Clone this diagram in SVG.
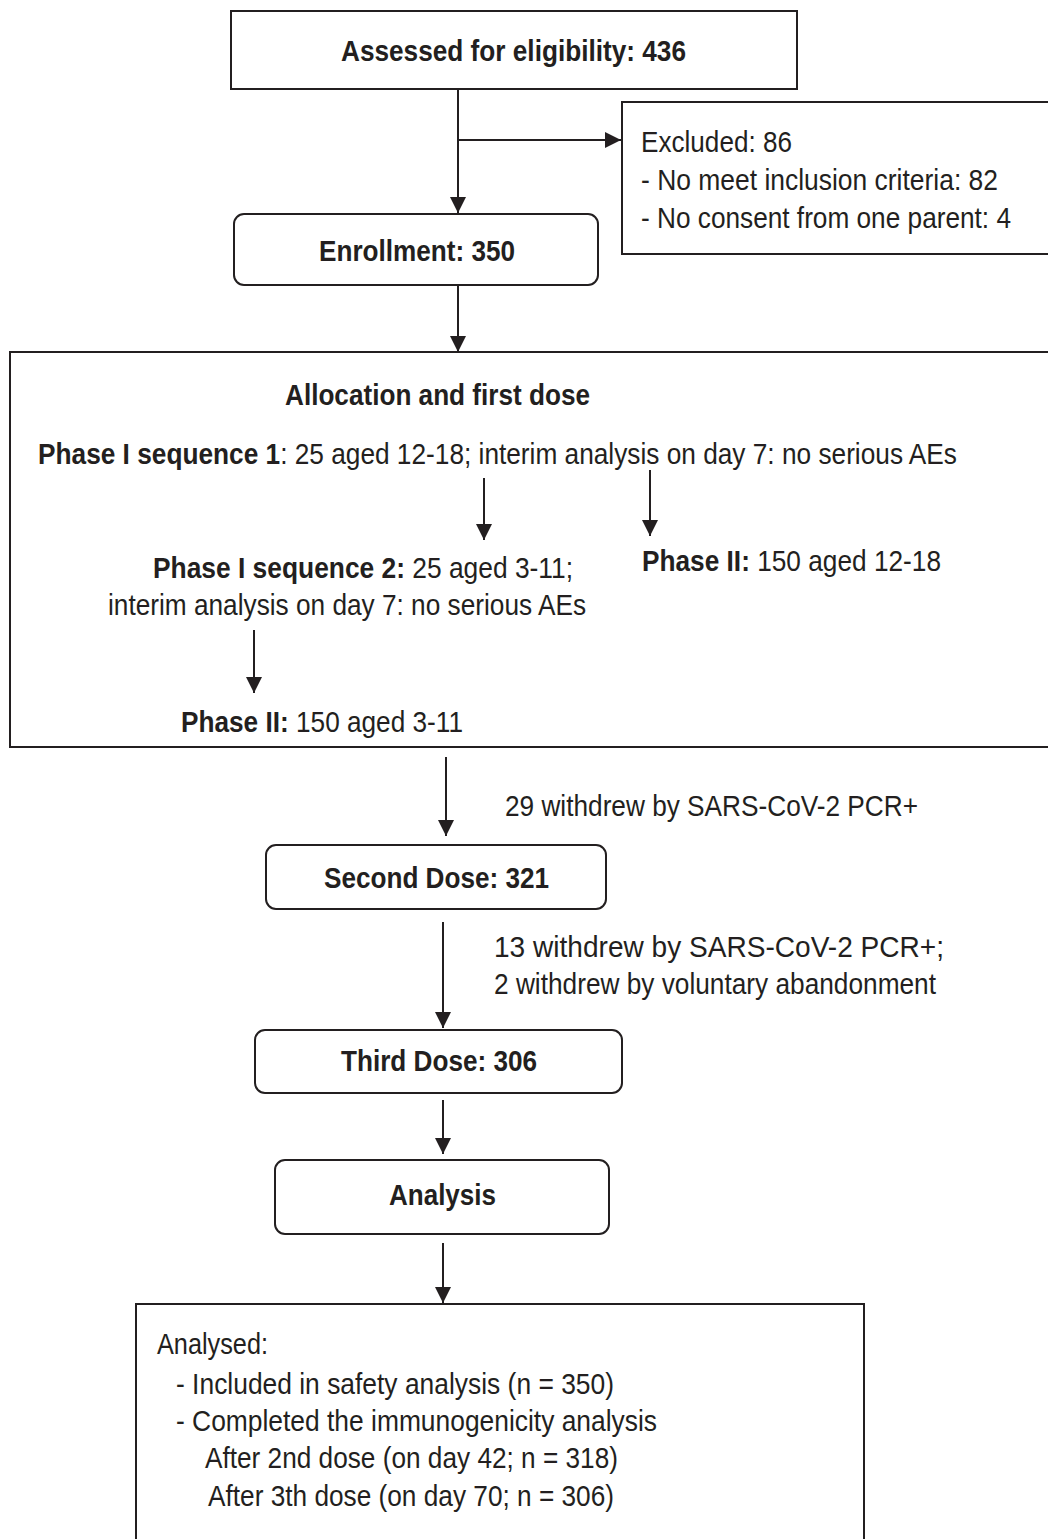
<svg xmlns="http://www.w3.org/2000/svg" width="1048" height="1539" viewBox="0 0 1048 1539">
<style>
.box{fill:#fff;stroke:#231f20;stroke-width:2}
.t{font-family:"Liberation Sans Narrow","Arial Narrow","Liberation Sans",Arial,sans-serif;font-size:30px;fill:#231f20}
.b{font-weight:bold}
.ln{stroke:#231f20;stroke-width:2;fill:none}
</style>
<defs>
<marker id="ah" markerUnits="userSpaceOnUse" markerWidth="16" markerHeight="20" viewBox="0 0 16 20" refX="16" refY="8" orient="auto">
<path d="M0,0 L16,8 L0,16 Z" fill="#231f20"/>
</marker>
</defs>
<rect width="1048" height="1539" fill="#fff"/>

<g id="assessed">
<rect class="box" x="231" y="11" width="566" height="78"/>
<text class="t b" x="341" y="61" textLength="345" lengthAdjust="spacingAndGlyphs">Assessed for eligibility: 436</text>
</g>

<g id="excluded">
<rect class="box" x="622" y="102" width="430" height="152"/>
<text class="t" x="641" y="152" textLength="151" lengthAdjust="spacingAndGlyphs">Excluded: 86</text>
<text class="t" x="641" y="190" textLength="357" lengthAdjust="spacingAndGlyphs">- No meet inclusion criteria: 82</text>
<text class="t" x="641" y="228" textLength="370" lengthAdjust="spacingAndGlyphs">- No consent from one parent: 4</text>
</g>

<g id="enrollment">
<rect class="box" x="234" y="214" width="364" height="71" rx="10"/>
<text class="t b" x="319" y="261" textLength="196" lengthAdjust="spacingAndGlyphs">Enrollment: 350</text>
</g>

<g id="allocation">
<rect class="box" x="10" y="352" width="1045" height="395"/>
<text class="t b" x="285" y="405" textLength="305" lengthAdjust="spacingAndGlyphs">Allocation and first dose</text>
<text class="t" x="38" y="464" textLength="919" lengthAdjust="spacingAndGlyphs"><tspan class="b">Phase I sequence 1</tspan>: 25 aged 12-18; interim analysis on day 7: no serious AEs</text>
<text class="t" x="153" y="578" textLength="420" lengthAdjust="spacingAndGlyphs"><tspan class="b">Phase I sequence 2:</tspan> 25 aged 3-11;</text>
<text class="t" x="108" y="615" textLength="478" lengthAdjust="spacingAndGlyphs">interim analysis on day 7: no serious AEs</text>
<text class="t" x="642" y="571" textLength="299" lengthAdjust="spacingAndGlyphs"><tspan class="b">Phase II:</tspan> 150 aged 12-18</text>
<text class="t" x="181" y="732" textLength="282" lengthAdjust="spacingAndGlyphs"><tspan class="b">Phase II:</tspan> 150 aged 3-11</text>
</g>

<g id="second">
<rect class="box" x="266" y="845" width="340" height="64" rx="10"/>
<text class="t b" x="324" y="888" textLength="225" lengthAdjust="spacingAndGlyphs">Second Dose: 321</text>
</g>

<g id="third">
<rect class="box" x="255" y="1030" width="367" height="63" rx="10"/>
<text class="t b" x="341" y="1071" textLength="196" lengthAdjust="spacingAndGlyphs">Third Dose: 306</text>
</g>

<g id="analysis">
<rect class="box" x="275" y="1160" width="334" height="74" rx="10"/>
<text class="t b" x="389" y="1205" textLength="107" lengthAdjust="spacingAndGlyphs">Analysis</text>
</g>

<g id="analysed">
<rect class="box" x="136" y="1304" width="728" height="245"/>
<text class="t" x="157" y="1354" textLength="111" lengthAdjust="spacingAndGlyphs">Analysed:</text>
<text class="t" x="176" y="1394" textLength="438" lengthAdjust="spacingAndGlyphs">- Included in safety analysis (n = 350)</text>
<text class="t" x="176" y="1431" textLength="481" lengthAdjust="spacingAndGlyphs">- Completed the immunogenicity analysis</text>
<text class="t" x="205" y="1468" textLength="413" lengthAdjust="spacingAndGlyphs">After 2nd dose (on day 42; n = 318)</text>
<text class="t" x="208" y="1506" textLength="406" lengthAdjust="spacingAndGlyphs">After 3th dose (on day 70; n = 306)</text>
</g>

<g id="labels">
<text class="t" x="505" y="816" textLength="413" lengthAdjust="spacingAndGlyphs">29 withdrew by SARS-CoV-2 PCR+</text>
<text class="t" x="494" y="957" textLength="450" lengthAdjust="spacingAndGlyphs">13 withdrew by SARS-CoV-2 PCR+;</text>
<text class="t" x="494" y="994" textLength="442" lengthAdjust="spacingAndGlyphs">2 withdrew by voluntary abandonment</text>
</g>

<g id="connectors">
<line class="ln" x1="458" y1="89" x2="458" y2="213" marker-end="url(#ah)"/>
<line class="ln" x1="458" y1="140" x2="621" y2="140" marker-end="url(#ah)"/>
<line class="ln" x1="458" y1="285" x2="458" y2="352" marker-end="url(#ah)"/>
<line class="ln" x1="484" y1="478" x2="484" y2="540" marker-end="url(#ah)"/>
<line class="ln" x1="650" y1="470" x2="650" y2="536" marker-end="url(#ah)"/>
<line class="ln" x1="254" y1="630" x2="254" y2="693" marker-end="url(#ah)"/>
<line class="ln" x1="446" y1="757" x2="446" y2="836" marker-end="url(#ah)"/>
<line class="ln" x1="443" y1="922" x2="443" y2="1028" marker-end="url(#ah)"/>
<line class="ln" x1="443" y1="1100" x2="443" y2="1154" marker-end="url(#ah)"/>
<line class="ln" x1="443" y1="1243" x2="443" y2="1303" marker-end="url(#ah)"/>
</g>
</svg>
